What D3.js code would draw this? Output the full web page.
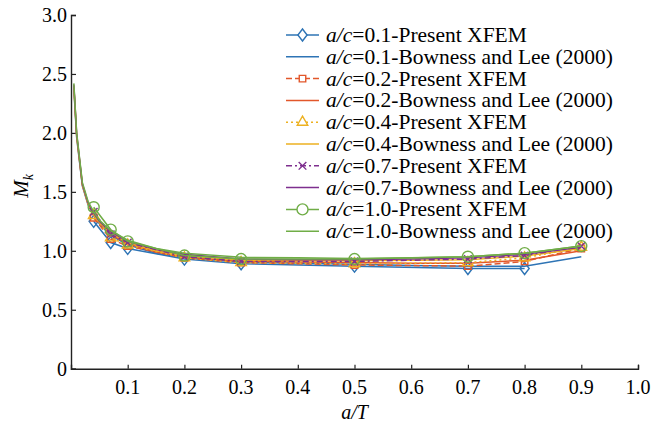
<!DOCTYPE html>
<html><head><meta charset="utf-8">
<script src="https://cdn.jsdelivr.net/npm/d3@7"></script>
<style>body{margin:0;background:#fff;}</style>
</head><body>
<svg id="chart" width="657" height="423"></svg>
<script>
// ---- data ----
const xfemAT = [0.04, 0.07, 0.1, 0.2, 0.3, 0.5, 0.7, 0.8, 0.9];
const xfem_ac01 = [1.25, 1.07, 1.02, 0.93, 0.89, 0.87, 0.85, 0.85];
const xfem_ac02 = [1.28, 1.10, 1.04, 0.94, 0.90, 0.88, 0.87, 0.91, 1.02];
const xfem_ac04 = [1.30, 1.11, 1.05, 0.94, 0.90, 0.89, 0.90, 0.94, 1.03];
const xfem_ac07 = [1.33, 1.14, 1.07, 0.95, 0.91, 0.91, 0.93, 0.96, 1.04];
const xfem_ac10 = [1.37, 1.18, 1.08, 0.96, 0.93, 0.93, 0.95, 0.98, 1.04];

const bowAT = [0.005, 0.01, 0.02, 0.03, 0.04, 0.05, 0.07, 0.1, 0.15, 0.2, 0.3, 0.4, 0.5, 0.6, 0.7, 0.8, 0.9];
const bow_ac01 = [2.38, 1.96, 1.55, 1.39, 1.30, 1.23, 1.13, 1.05, 0.98, 0.94, 0.905, 0.895, 0.885, 0.875, 0.87, 0.87, 0.95];
const bow_ac02 = [2.40, 1.98, 1.56, 1.40, 1.31, 1.24, 1.14, 1.06, 0.99, 0.95, 0.91, 0.905, 0.90, 0.895, 0.895, 0.92, 1.00];
const bow_ac04 = [2.39, 1.97, 1.56, 1.40, 1.31, 1.24, 1.15, 1.07, 1.00, 0.96, 0.92, 0.915, 0.915, 0.92, 0.925, 0.955, 1.02];
const bow_ac07 = [2.41, 1.99, 1.57, 1.41, 1.32, 1.25, 1.16, 1.08, 1.01, 0.97, 0.93, 0.925, 0.925, 0.93, 0.94, 0.97, 1.03];
const bow_ac10 = [2.42, 2.00, 1.58, 1.42, 1.33, 1.26, 1.17, 1.09, 1.02, 0.98, 0.945, 0.94, 0.935, 0.94, 0.95, 0.98, 1.04];

const xTicks = [0.1, 0.2, 0.3, 0.4, 0.5, 0.6, 0.7, 0.8, 0.9, 1.0];
const yTicks = [0, 0.5, 1.0, 1.5, 2.0, 2.5, 3.0];
const acLabels = ["0.1", "0.2", "0.4", "0.7", "1.0"];
const colors = ["#2E74B5", "#E2572B", "#EDB120", "#7E2F8E", "#70AD47"];
const markers = ["diamond", "square", "triangle", "cross", "circle"];
const dashes = [null, "6,3", "2,3", "6,3,2,3", null];

const FONT = "Liberation Serif";
const fmt = d => d === 0 ? "0" : d3.format(".1f")(d);

// ---- layout ----
const svg = d3.select("#chart");
const x = d3.scaleLinear().domain([0, 1]).range([71, 638]);
const y = d3.scaleLinear().domain([0, 3]).range([368.7, 15]);

// axes (lines via d3 axes; labels as root-level text from the same scales)
const gx = svg.append("g").attr("transform", `translate(0,${y(0)})`)
  .call(d3.axisBottom(x).tickValues(xTicks).tickSize(-4).tickFormat(""));
const gy = svg.append("g").attr("transform", `translate(${x(0)},0)`)
  .call(d3.axisLeft(y).tickValues(yTicks).tickSize(-5).tickFormat(""));
[gx, gy].forEach(g => {
  g.select(".domain").attr("stroke", "#222").attr("stroke-width", 1.4);
  g.selectAll(".tick line").attr("stroke", "#222").attr("stroke-width", 1.2);
  g.selectAll(".tick text").remove();
});
svg.selectAll("text.xt").data(xTicks).enter().append("text").attr("class", "xt")
  .attr("x", d => x(d)).attr("y", y(0) + 25).attr("text-anchor", "middle")
  .attr("font-family", FONT).attr("font-size", 20).text(fmt);
svg.selectAll("text.yt").data(yTicks).enter().append("text").attr("class", "yt")
  .attr("x", x(0) - 4).attr("y", d => y(d) + 7).attr("text-anchor", "end")
  .attr("font-family", FONT).attr("font-size", 20).text(fmt);

// axis titles
svg.append("text").attr("x", x(0.5)).attr("y", 419).attr("text-anchor", "middle")
  .attr("font-family", FONT).attr("font-size", 20).attr("font-style", "italic").text("a/T");
const yl = svg.append("text").attr("transform", `translate(28,${y(1.55)}) rotate(-90)`)
  .attr("text-anchor", "middle").attr("font-family", FONT).attr("font-size", 21)
  .attr("font-style", "italic");
yl.append("tspan").text("M");
yl.append("tspan").attr("dy", 5).attr("font-size", 14).text("k");

// marker shapes
function markerPath(kind) {
  if (kind === "diamond") return "M0,-6L4.6,0L0,6L-4.6,0Z";
  if (kind === "square") return d3.symbol(d3.symbolSquare, 42)();
  if (kind === "triangle") return d3.symbol(d3.symbolTriangle, 48)();
  if (kind === "cross") return d3.symbol(d3.symbolX, 40)();
  return d3.symbol(d3.symbolCircle, 95)();
}

const xfemSeries = [xfem_ac01, xfem_ac02, xfem_ac04, xfem_ac07, xfem_ac10];
const bowSeries = [bow_ac01, bow_ac02, bow_ac04, bow_ac07, bow_ac10];
const line = d3.line().x(d => x(d[0])).y(d => y(d[1]));
const plot = svg.append("g");

for (let i = 0; i < 5; i++) {
  const xd = xfemSeries[i].map((v, j) => [xfemAT[j], v]);
  const bd = bowSeries[i].map((v, j) => [bowAT[j], v]);
  plot.append("path").datum(xd).attr("d", line).attr("fill", "none")
    .attr("stroke", colors[i]).attr("stroke-width", 1.5)
    .attr("stroke-dasharray", dashes[i]);
  plot.selectAll(null).data(xd).enter().append("path")
    .attr("transform", d => `translate(${x(d[0])},${y(d[1])})`)
    .attr("d", markerPath(markers[i])).attr("fill", "none")
    .attr("stroke", colors[i]).attr("stroke-width", 1.4);
  plot.append("path").datum(bd).attr("d", line).attr("fill", "none")
    .attr("stroke", colors[i]).attr("stroke-width", 1.5);
}

// legend
const rowH = 21.8, row0 = 35;
for (let i = 0; i < 5; i++) {
  for (let k = 0; k < 2; k++) {
    const r = i * 2 + k;
    const cy = row0 + r * rowH;
    svg.append("line").attr("x1", 286).attr("x2", 319).attr("y1", cy).attr("y2", cy)
      .attr("stroke", colors[i]).attr("stroke-width", 1.5)
      .attr("stroke-dasharray", k === 0 ? dashes[i] : null);
    if (k === 0) {
      svg.append("path").attr("transform", `translate(302.5,${cy})`)
        .attr("d", markerPath(markers[i])).attr("fill", "#fff")
        .attr("stroke", colors[i]).attr("stroke-width", 1.4);
    }
    const t = svg.append("text").attr("x", 326).attr("y", cy + 7)
      .attr("font-family", FONT).attr("font-size", 21.5);
    t.append("tspan").attr("font-style", "italic").text("a/c");
    t.append("tspan").text("=" + acLabels[i] + (k === 0 ? "-Present XFEM" : "-Bowness and Lee (2000)"));
  }
}
</script>
</body></html>
